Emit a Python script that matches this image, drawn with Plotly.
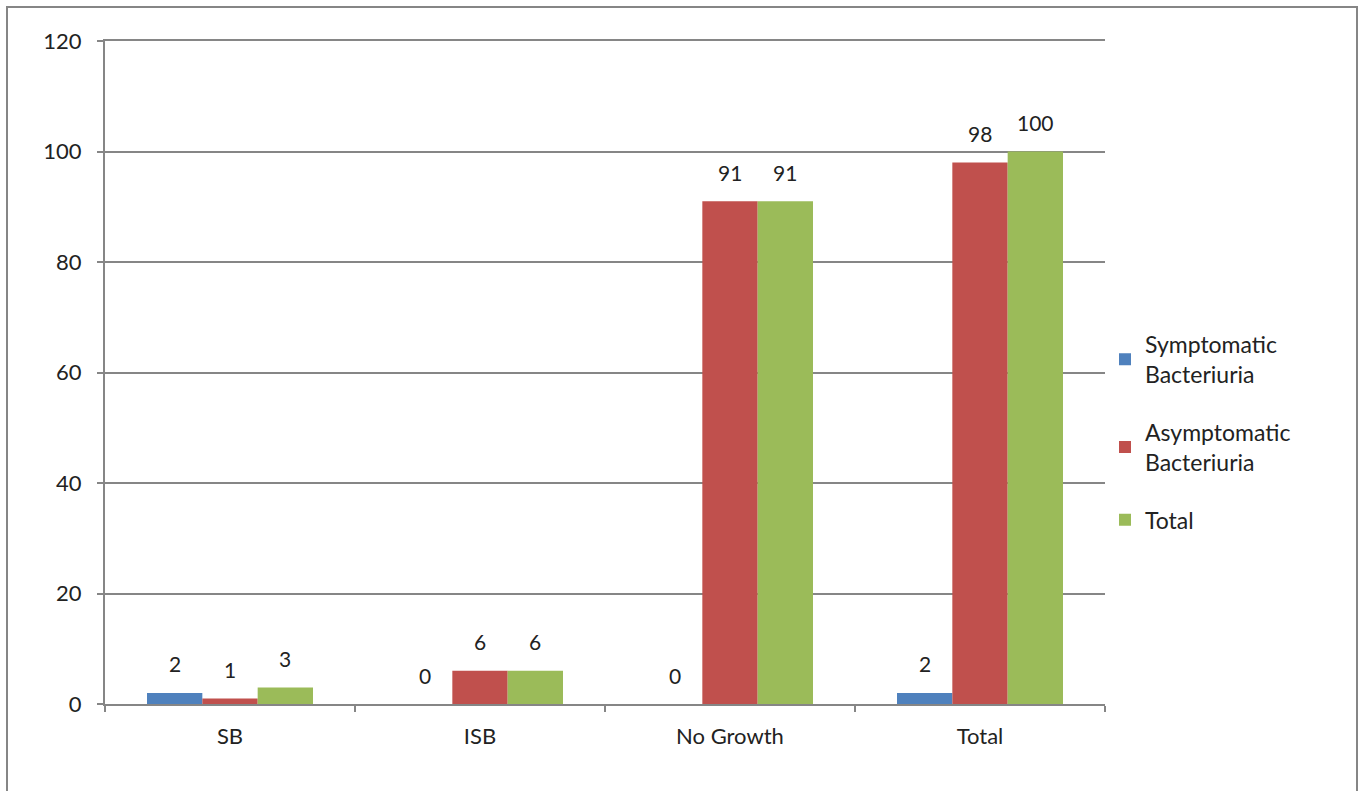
import plotly.graph_objects as go

# Chart data
categories = ["SB", "ISB", "No Growth", "Total"]
series_names = ["Symptomatic<br>Bacteriuria", "Asymptomatic<br>Bacteriuria", "Total"]
symptomatic = [2, 0, 0, 2]
asymptomatic = [1, 6, 91, 98]
total = [3, 6, 91, 100]
y_ticks = [0, 20, 40, 60, 80, 100, 120]

series_values = [symptomatic, asymptomatic, total]
colors = ["#4F81BD", "#C0504D", "#9BBB59"]

W, H = 1364, 791
M_L, M_R, M_T, M_B = 105, 259, 41, 87
plot_w = W - M_L - M_R
plot_h = H - M_T - M_B
BARGAP = 0.336
GRID = "#868686"
FONT = "Lato, 'Open Sans', sans-serif"
FS = 22
TXT = "#222222"

fig = go.Figure()
for i, (name, vals, col) in enumerate(zip(series_names, series_values, colors)):
    fig.add_trace(go.Bar(
        x=categories, y=vals, name=name,
        marker=dict(color=col, line=dict(width=0)),
        legendgroup=f"g{i}",
    ))

# value labels above each bar
cat_px = plot_w / len(categories)
bar_px = cat_px * (1 - BARGAP) / len(series_values)
annotations = []
for i, vals in enumerate(series_values):
    offset = (i - (len(series_values) - 1) / 2) * bar_px
    for cat, v in zip(categories, vals):
        annotations.append(dict(
            x=cat, y=v, xref="x", yref="y", text=str(v), showarrow=False,
            xshift=offset, yshift=29, yanchor="middle", xanchor="center",
            font=dict(family=FONT, size=21, color=TXT),
        ))

# outer chart frame
fx0 = (7 - M_L) / plot_w
fx1 = (1357 - M_L) / plot_w
fy1 = (H - M_B - 7) / plot_h
fy0 = (H - M_B - 793) / plot_h

fig.update_layout(
    width=W, height=H,
    margin=dict(l=M_L, r=M_R, t=M_T, b=M_B),
    paper_bgcolor="white", plot_bgcolor="white",
    barmode="group", bargap=BARGAP, bargroupgap=0,
    font=dict(family=FONT, size=FS, color=TXT),
    annotations=annotations,
    shapes=[dict(type="rect", xref="paper", yref="paper",
                 x0=fx0, x1=fx1, y0=fy0, y1=fy1,
                 line=dict(color=GRID, width=2), layer="below")],
    legend=dict(
        x=1.0, y=0.575, xanchor="left", yanchor="top",
        font=dict(family=FONT, size=23, color=TXT),
        tracegroupgap=25, bgcolor="rgba(0,0,0,0)",
        itemwidth=30,
    ),
    showlegend=True,
    xaxis=dict(
        type="category", showgrid=False, showline=True, linecolor=GRID, linewidth=2,
        mirror=True,
        ticks="outside", tickson="boundaries", ticklen=6, tickcolor=GRID, tickwidth=2,
        ticklabelstandoff=12, zeroline=False,
    ),
    yaxis=dict(
        range=[0, 120], tickvals=y_ticks, showgrid=True, gridcolor=GRID, gridwidth=2,
        showline=True, linecolor=GRID, linewidth=2, ticks="outside", ticklen=6,
        tickcolor=GRID, tickwidth=2, ticklabelstandoff=11, zeroline=False,
    ),
)

fig.write_html("out.html")
